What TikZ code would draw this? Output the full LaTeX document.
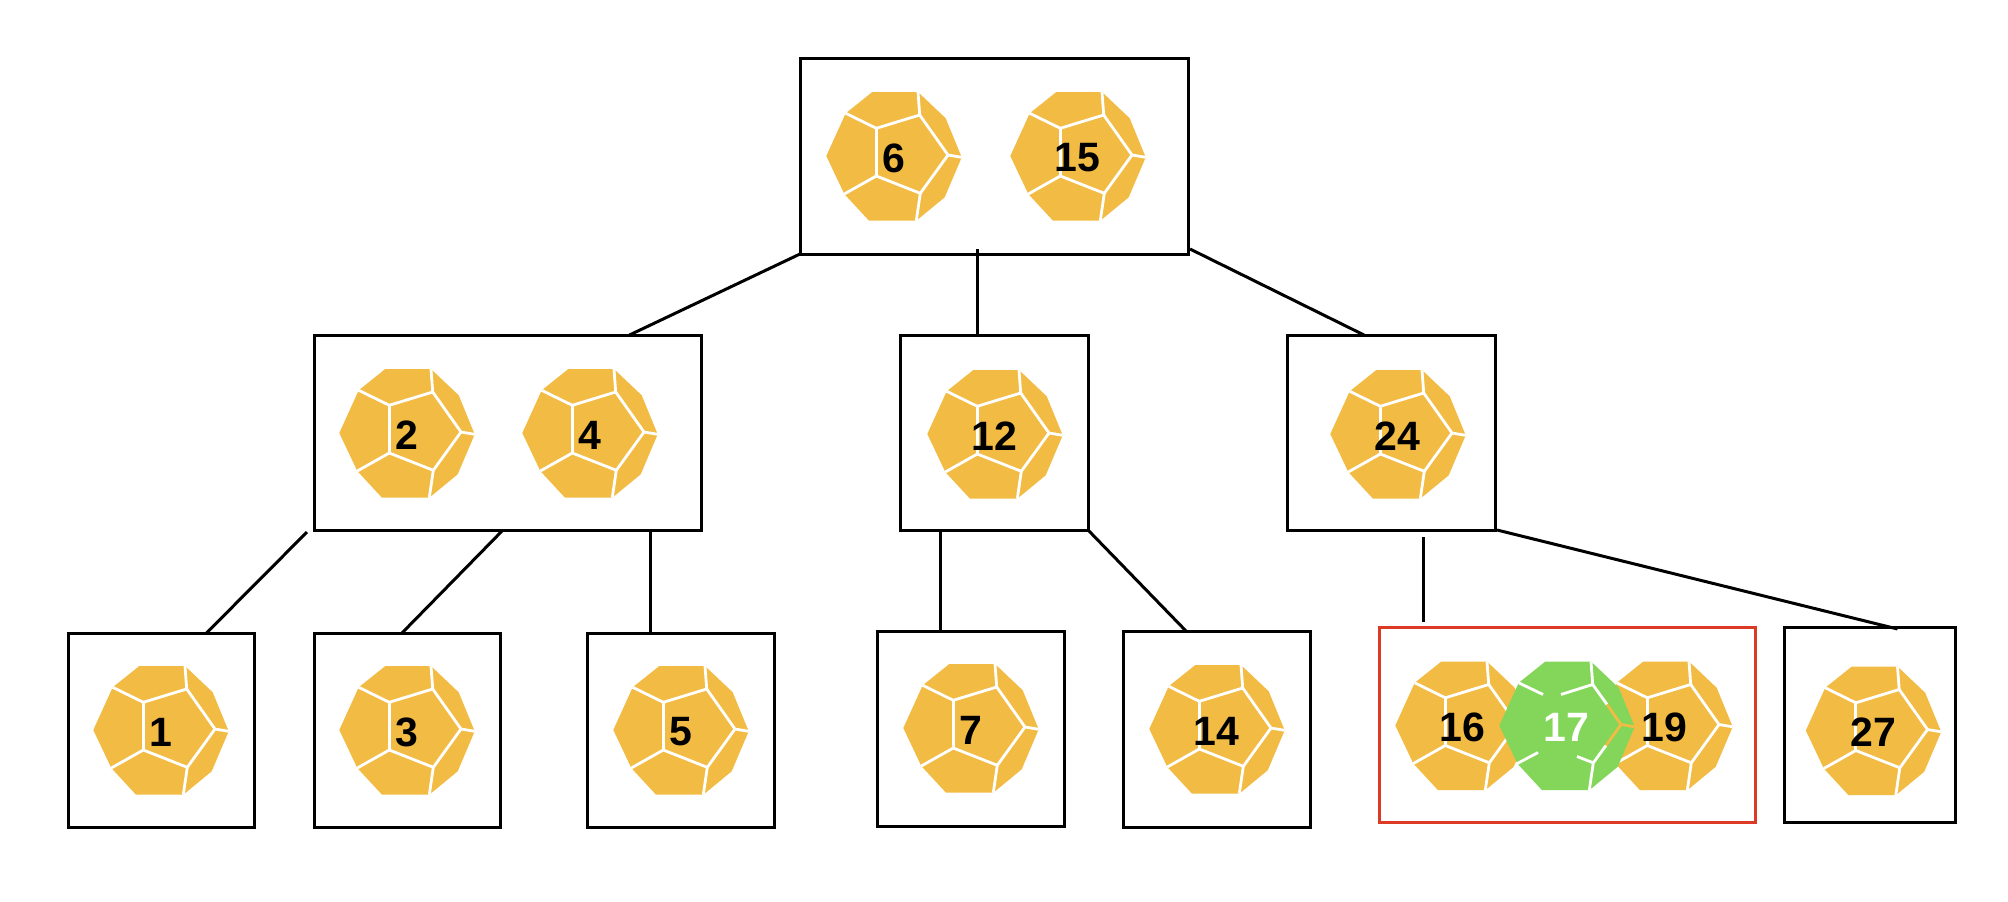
\documentclass[tikz,border=0pt]{standalone}
\usepackage{fontspec}
\setmainfont{Liberation Sans}
\definecolor{dieorange}{HTML}{F2BB43}
\definecolor{diegreen}{HTML}{83D65A}
\definecolor{boxred}{HTML}{DD3A26}
\newcommand{\diecorners}{
    \coordinate (a) at (-20.7,-64);
    \coordinate (b) at (25,-64);
    \coordinate (c) at (52.7,-37.7);
    \coordinate (d) at (68.7,1.3);
    \coordinate (e) at (51.7,41.3);
    \coordinate (f) at (23.3,64.7);
    \coordinate (g) at (-24,64.7);
    \coordinate (h) at (-48.7,38);
    \coordinate (i) at (-66.7,0);
    \coordinate (j) at (-47.3,-42.7);
    \coordinate (p) at (-16.7,-27.7);
    \coordinate (q) at (26.7,-41);
    \coordinate (r) at (55,-1);
    \coordinate (s) at (27.3,37.3);
    \coordinate (t) at (-16.7,20);
}
\tikzset{
    treebox/.style={draw=black, line width=3pt, inner sep=0pt, outer sep=0pt},
    redbox/.style={draw=boxred, line width=3pt, inner sep=0pt, outer sep=0pt},
    link/.style={line width=3pt},
    facet/.style={white, line width=2.8pt},
    dienum/.style={font=\fontsize{41}{41}\selectfont\bfseries, inner sep=0pt},
    pics/die/.style={code={
        \diecorners
        \fill[dieorange] (a) -- (b) -- (c) -- (d) -- (e) -- (f) -- (g) -- (h) -- (i) -- (j) -- cycle;
        \draw[facet] (j) -- (p) -- (q) -- (b);
        \draw[facet] (q) -- (r) -- (d);
        \draw[facet] (r) -- (s) -- (f);
        \draw[facet] (s) -- (t) -- (h);
        \draw[facet] (p) -- (t);
        \node[dienum] (num) at (0.5,2) {#1};
    }},
    pics/greendie/.style={code={
        \diecorners
        \fill[diegreen] (a) -- (b) -- (c) -- (d) -- (e) -- (f) -- (g) -- (h) -- (i) -- (j) -- cycle;
        \draw[facet] (j) -- (-23,-31);
        \draw[facet] (-5,-31) -- (q) -- (b);
        \draw[facet] (q) -- (41,-21);
        \draw[facet] (40,20) -- (s) -- (f);
        \draw[facet] (s) -- (11,31);
        \draw[facet] (h) -- (-28,27);
        \draw[dieorange, line width=2.8pt] (41,-21) -- (r) -- (d);
        \draw[dieorange, line width=2.8pt] (r) -- (40,20);
        \node[dienum, white] (num) at (0.5,2) {#1};
    }}
}
\begin{document}
\begin{tikzpicture}[x=1pt,y=-1pt]
    \useasboundingbox (0,0) rectangle (2008,902);
    % boxes
    \node[treebox, minimum width=388pt, minimum height=196pt] (root) at (994,156) {};
    \node[treebox, minimum width=387pt, minimum height=195pt] (left) at (507.5,432.5) {};
    \node[treebox, minimum width=188pt, minimum height=195pt] (mid) at (994,432.5) {};
    \node[treebox, minimum width=208pt, minimum height=195pt] (right) at (1391,432.5) {};
    \node[treebox, minimum width=186pt, minimum height=194pt] (leaf1) at (161,730) {};
    \node[treebox, minimum width=186pt, minimum height=194pt] (leaf3) at (407,730) {};
    \node[treebox, minimum width=187pt, minimum height=194pt] (leaf5) at (680.5,730) {};
    \node[treebox, minimum width=187pt, minimum height=195pt] (leaf7) at (970.5,728.5) {};
    \node[treebox, minimum width=187pt, minimum height=196pt] (leaf14) at (1216.5,729) {};
    \node[redbox, minimum width=376pt, minimum height=195pt] (leaf16) at (1567,725) {};
    \node[treebox, minimum width=171pt, minimum height=195pt] (leaf27) at (1869.5,724.5) {};
    % links
    \draw[link] (root.south west) -- ([xshift=122pt]left.north);
    \draw[link] ([xshift=-17pt,yshift=5pt]root.south) -- ([xshift=-17pt]mid.north);
    \draw[link] ([yshift=5pt,xshift=2pt]root.south east) -- ([xshift=-27pt]right.north);
    \draw[link] ([xshift=-7pt,yshift=-2pt]left.south west) -- ([xshift=45.5pt]leaf1.north);
    \draw[link] ([xshift=-4.5pt]left.south) -- ([xshift=-5pt]leaf3.north);
    \draw[link] ([xshift=142.5pt]left.south) -- ([xshift=-30.5pt]leaf5.north);
    \draw[link] ([xshift=-54pt]mid.south) -- ([xshift=-30.5pt]leaf7.north);
    \draw[link] (mid.south east) -- ([xshift=-30.5pt]leaf14.north);
    \draw[link] ([xshift=32pt,yshift=-7pt]right.south) -- ([xshift=-144pt,yshift=6pt]leaf16.north);
    \draw[link] ([xshift=2pt]right.south east) -- ([xshift=28pt,yshift=-2pt]leaf27.north);
    % dice
    \pic (d6) at (893,156) {die={6}};
    \pic (d15) at (1077,156) {die={15}};
    \pic (d2) at (406,433) {die={2}};
    \pic (d4) at (589,433) {die={4}};
    \pic (d12) at (994,434) {die={12}};
    \pic (d24) at (1397,434) {die={24}};
    \pic (d1) at (160,730) {die={1}};
    \pic (d3) at (406,730) {die={3}};
    \pic (d5) at (680,730) {die={5}};
    \pic (d7) at (970,728) {die={7}};
    \pic (d14) at (1216,729) {die={14}};
    \pic (d16) at (1462,725.5) {die={16}};
    \pic (d19) at (1664,725.5) {die={19}};
    \pic (d17) at (1566,725.5) {greendie={17}};
    \pic (d27) at (1872.5,730.5) {die={27}};
\end{tikzpicture}
\end{document}
